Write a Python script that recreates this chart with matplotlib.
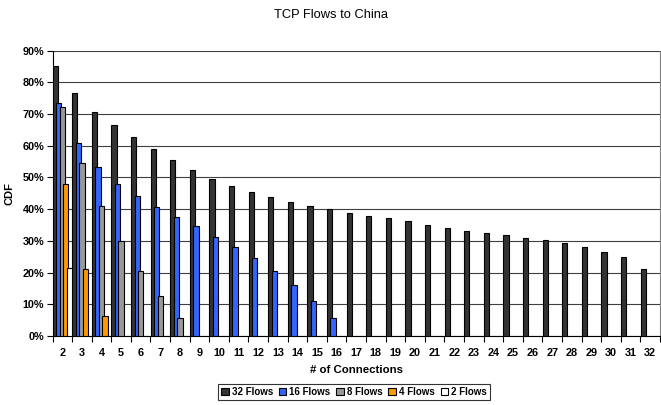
import numpy as np
import matplotlib.pyplot as plt
from matplotlib.ticker import PercentFormatter

plt.rcParams['font.family'] = ['Liberation Sans', 'DejaVu Sans']

# connections on the x axis
connections = list(range(2, 33))

# CDF values (%)
flows32 = [85.3, 76.7, 70.8, 66.5, 62.7, 59.0, 55.5, 52.4, 49.5, 47.3, 45.3,
           43.7, 42.2, 41.0, 40.0, 38.9, 37.9, 37.1, 36.2, 34.9, 34.1, 33.2,
           32.4, 32.0, 30.9, 30.3, 29.2, 28.0, 26.5, 24.9, 21.0]
flows16 = [73.4, 60.8, 53.2, 47.9, 44.1, 40.6, 37.4, 34.6, 31.3, 28.2, 24.5,
           20.4, 16.1, 11.0, 5.6]
flows8 = [72.3, 54.7, 41.0, 30.1, 20.6, 12.7, 5.7]
flows4 = [47.9, 21.1, 6.2]
flows2 = [21.5]

series = [("32 Flows", flows32, "#333333"),
          ("16 Flows", flows16, "#3366FF"),
          ("8 Flows", flows8, "#999999"),
          ("4 Flows", flows4, "#FF9900"),
          ("2 Flows", flows2, "#FFFFFF")]

fig = plt.figure(figsize=(6.61, 4.05), dpi=100)
ax = fig.add_axes([52.5 / 661, 69 / 405, 607.5 / 661, 285.3 / 405])

pos = np.arange(len(connections))
width = 0.27
step = 0.18
for i, (name, vals, col) in enumerate(series):
    x = pos[:len(vals)] + (i - 2) * step
    ax.bar(x, vals, width=width, color=col, edgecolor="black", linewidth=0.8,
           label=name, zorder=3 + i)

ax.set_xlim(-0.5, len(connections) - 0.5)
ax.set_ylim(0, 90)
ax.set_yticks(np.arange(0, 91, 10))
ax.yaxis.set_major_formatter(PercentFormatter(decimals=0))
ax.set_xticks(pos)
ax.set_xticklabels(connections)
ax.set_xticks(np.arange(-0.5, len(connections), 1), minor=True)
ax.tick_params(axis="x", which="major", length=0, pad=9)
ax.tick_params(axis="x", which="minor", length=4, direction="out", width=0.8)
ax.tick_params(axis="y", length=4, direction="out", width=0.8, pad=2)
for lab in ax.get_xticklabels() + ax.get_yticklabels():
    lab.set_fontsize(7.8)
    lab.set_fontweight("bold")

ax.grid(axis="y", color="#404040", linewidth=0.8, zorder=0)
ax.spines["top"].set_visible(False)
ax.spines["right"].set_color("#808080")
ax.spines["left"].set_linewidth(0.8)
ax.spines["bottom"].set_linewidth(0.8)

ax.set_ylabel("CDF", fontsize=8, fontweight="bold", labelpad=6)
ax.set_xlabel("# of Connections", fontsize=8.2, fontweight="bold", labelpad=5)
fig.text(0.5, 1 - 15 / 405, "TCP Flows to China", ha="center", va="center",
         fontsize=9.3)

leg = fig.legend(loc="center", bbox_to_anchor=(354 / 661, 1 - 392 / 405), ncol=5,
                 fontsize=7, frameon=True, fancybox=False, edgecolor="black",
                 handlelength=0.8, handleheight=0.8, handletextpad=0.3,
                 columnspacing=0.6, borderpad=0.3)
leg.get_frame().set_linewidth(0.8)
for t in leg.get_texts():
    t.set_fontweight("bold")

fig.savefig("out.png", dpi=100)
